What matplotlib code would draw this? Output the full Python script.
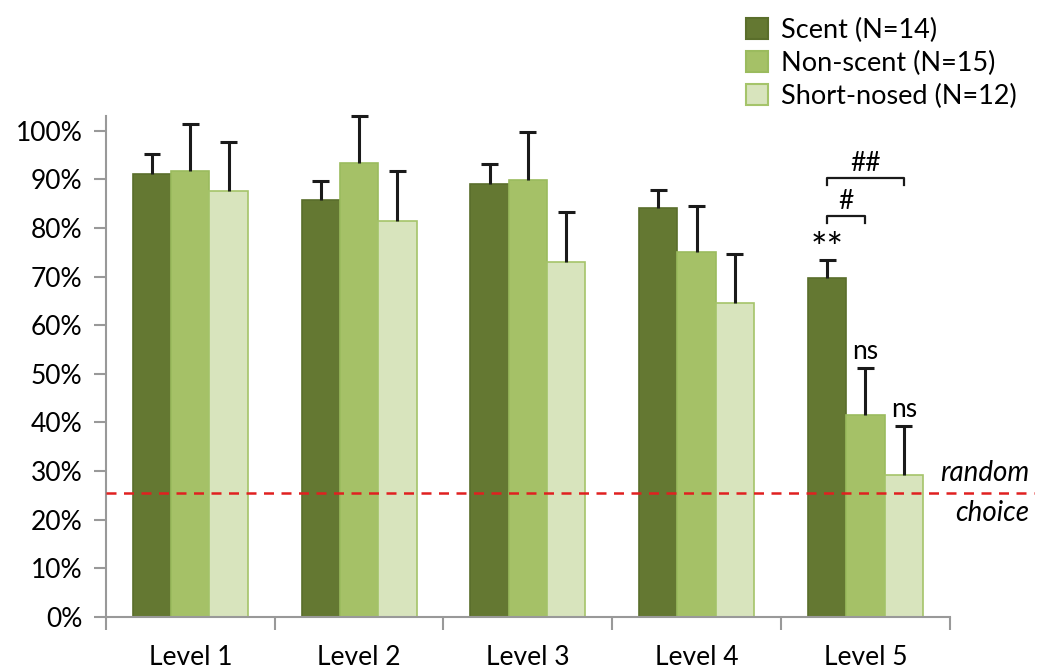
import numpy as np
import matplotlib
matplotlib.use("Agg")
import matplotlib.pyplot as plt
from matplotlib.patches import Patch

levels = ["Level 1", "Level 2", "Level 3", "Level 4", "Level 5"]
groups = ["Scent (N=14)", "Non-scent (N=15)", "Short-nosed (N=12)"]
scent = [91.0, 85.8, 89.1, 84.0, 69.6]
scent_err = [4.1, 3.9, 4.1, 3.7, 3.9]
nonscent = [91.6, 93.4, 89.9, 75.0, 41.6]
nonscent_err = [9.8, 9.7, 9.9, 9.6, 9.7]
short = [87.5, 81.5, 72.9, 64.6, 29.1]
short_err = [10.2, 10.1, 10.3, 10.1, 10.2]
chance = 25.5

colors = ["#647832", "#a5c167", "#d8e4bd"]
edges = ["#5a6e2b", "#9bbb5e", "#a5c46a"]

plt.rcParams['font.family'] = ['Lato', 'DejaVu Sans']

fig = plt.figure(figsize=(10.46, 6.68), dpi=100)
ax = fig.add_axes([0.1013, 0.0763, 0.8067, 0.75])

x = np.arange(len(levels))
w = 0.227
cap = 0.05
series = [(scent, scent_err), (nonscent, nonscent_err), (short, short_err)]
for i, (vals, errs) in enumerate(series):
    pos = x + (i - 1) * w
    ax.bar(pos, vals, w, color=colors[i], edgecolor=edges[i], linewidth=1.2, zorder=2)
    tops = np.array(vals) + np.array(errs)
    ax.vlines(pos, vals, tops, color="#1a1a1a", lw=2.2, zorder=3, clip_on=False)
    ax.hlines(tops, pos - cap, pos + cap, color="#1a1a1a", lw=2.2, zorder=3, clip_on=False)

ax.axhline(chance, color="#e02020", ls=(0, (4, 3)), lw=1.8, zorder=4,
           xmin=0, xmax=1.1, clip_on=False)
ax.text(4.97, chance + 1.5, "random", style="italic", fontsize=20, ha="right", va="bottom")
ax.text(4.97, chance - 1.5, "choice", style="italic", fontsize=20, ha="right", va="top")

# significance marks on level 5
ax.text(4 - w, scent[4] + scent_err[4] - 1.8, "**", fontsize=28, ha="center", va="bottom")
ax.text(4, nonscent[4] + nonscent_err[4] + 0.8, "ns", fontsize=19, ha="center", va="bottom")
ax.text(4 + w, short[4] + short_err[4] + 0.8, "ns", fontsize=19, ha="center", va="bottom")

def bracket(x0, x1, y, label):
    ax.plot([x0, x0, x1, x1], [y - 1.5, y, y, y - 1.5], color="#1a1a1a", lw=1.6, clip_on=False)
    ax.text((x0 + x1) / 2, y + 0.3, label, fontsize=19, ha="center", va="bottom")

bracket(4 - w, 4, 82.5, "#")
bracket(4 - w, 4 + w, 90.3, "##")

ax.set_xlim(-0.5, 4.5)
ax.set_ylim(0, 103)
ax.set_yticks(np.arange(0, 101, 10))
ax.set_yticklabels([f"{v}%" for v in range(0, 101, 10)], fontsize=19)
ax.set_xticks(x)
ax.set_xticklabels(levels, fontsize=19)
ax.set_xticks(np.arange(-0.5, 5, 1), minor=True)
ax.tick_params(axis="x", which="major", length=0, pad=20)
ax.tick_params(axis="x", which="minor", length=9, color="#999999", width=1.5)
ax.tick_params(axis="y", length=9, color="#999999", width=1.5, pad=8)
for s in ["top", "right"]:
    ax.spines[s].set_visible(False)
for s in ["left", "bottom"]:
    ax.spines[s].set_color("#999999")
    ax.spines[s].set_linewidth(1.5)

handles = [Patch(facecolor=colors[i], edgecolor=edges[i], linewidth=1.5) for i in range(3)]
fig.legend(handles, groups, loc="upper left", bbox_to_anchor=(0.69, 1.01),
           frameon=False, fontsize=19.5, handlelength=0.8, handleheight=0.8,
           handletextpad=0.5, labelspacing=0.3)

fig.savefig("out.png", dpi=100)
